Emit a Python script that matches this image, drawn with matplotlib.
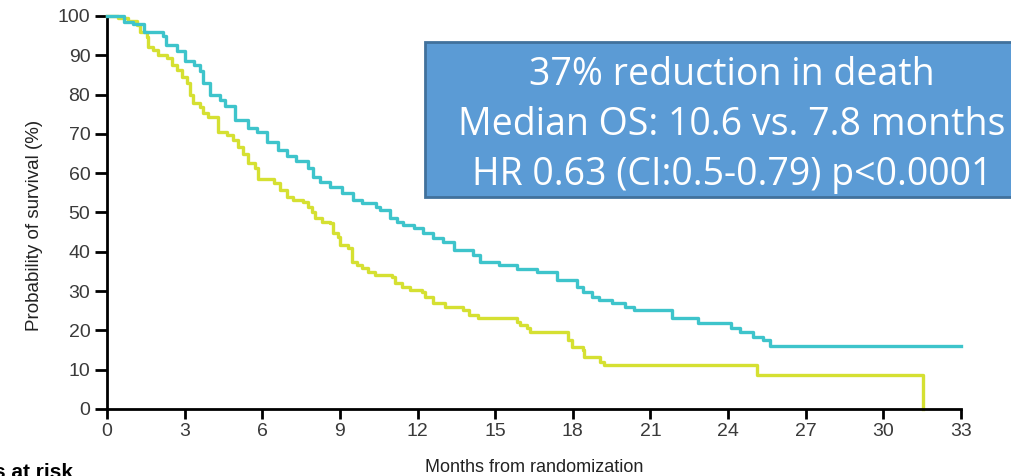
import matplotlib.pyplot as plt
from matplotlib.patches import Rectangle

# Kaplan-Meier steps: (month of drop, survival % after drop)
months_treat = [0, 0.66, 1.0, 1.45, 2.15, 2.3, 2.7, 3.0, 3.35, 3.6, 3.7, 4.0, 4.35, 4.55, 4.95,
                5.45, 5.8, 6.2, 6.6, 6.95, 7.3, 7.75, 7.95, 8.25, 8.6, 9.1, 9.5, 9.85, 10.4,
                10.55, 10.95, 11.2, 11.45, 11.85, 12.2, 12.6, 13.0, 13.4, 14.15, 14.4, 15.15,
                15.85, 16.6, 17.4, 18.15, 18.4, 18.75, 19.0, 19.5, 20.0, 20.35, 21.85, 22.85,
                24.1, 24.45, 24.95, 25.35, 25.6, 33.0]
surv_treat = [100, 98.5, 98, 96, 95, 92.6, 91, 88.5, 87.5, 86, 83, 80, 78.6, 77, 73.5,
              71.5, 70.5, 68, 66, 64.5, 63, 61.3, 59, 57.8, 56.5, 55, 53.2, 52.4, 51.4,
              50.6, 48.6, 47.6, 46.8, 46, 44.8, 43.5, 42.5, 40.5, 39.2, 37.4, 36.6,
              35.6, 34.9, 32.8, 31, 29.8, 28.5, 27.7, 27, 26, 25.2, 23.2, 21.9,
              20.6, 19.6, 18.3, 17.6, 16.1, 16.1]

months_ctrl = [0, 0.43, 0.81, 1.16, 1.28, 1.55, 1.6, 1.78, 1.97, 2.32, 2.51, 2.7, 2.9, 3.09,
               3.2, 3.32, 3.59, 3.71, 3.9, 4.29, 4.64, 4.87, 5.06, 5.25, 5.45, 5.72, 5.83,
               6.45, 6.68, 6.96, 7.19, 7.57, 7.75, 7.92, 8.04, 8.3, 8.6, 8.73, 8.93, 9.0,
               9.3, 9.47, 9.66, 9.85, 10.1, 10.35, 11.0, 11.13, 11.4, 11.7, 12.16, 12.3,
               12.6, 13.06, 13.75, 14.0, 14.33, 15.84, 15.96, 16.23, 16.35, 17.8, 17.97,
               18.4, 18.45, 19.05, 19.2, 25.12, 31.53]
surv_ctrl = [100, 99.5, 98.8, 97.7, 96, 94.6, 92, 91.3, 90, 89.3, 87.5, 86.3, 84.5, 83,
             80, 77.9, 76.8, 75.3, 74.3, 70.5, 69.7, 68.4, 66.7, 65, 62.6, 61.3, 58.5,
             57.5, 55.7, 53.9, 53.2, 52.7, 51.4, 50.1, 48.6, 47.6, 47.3, 44.8, 43.8, 41.7,
             41, 37.4, 36.6, 35.9, 34.9, 34.1, 33.6, 32, 31, 30.3, 29.8, 28.5,
             27, 26, 25.2, 23.9, 23.2, 22.1, 21.4, 20.6, 19.6, 17.6, 15.8,
             15, 13.2, 12, 11.2, 8.7, 0]

x_ticks = list(range(0, 34, 3))
y_ticks = list(range(0, 101, 10))
box_lines = ["37% reduction in death",
             "Median OS: 10.6 vs. 7.8 months",
             "HR 0.63 (CI:0.5-0.79) p<0.0001"]

plt.rcParams['font.family'] = ['Liberation Sans', 'DejaVu Sans']

fig = plt.figure(figsize=(10.11, 4.76), dpi=100)
ax = fig.add_axes([0.1058, 0.1408, 0.8448, 0.8256])

ax.step(months_treat, surv_treat, where='post', color='#3EC4CB', lw=2.4, clip_on=False, zorder=3)
ax.step(months_ctrl, surv_ctrl, where='post', color='#D5E032', lw=2.4, clip_on=False, zorder=2)

ax.set_xlim(0, 33)
ax.set_ylim(0, 100)
ax.set_xticks(x_ticks)
ax.set_yticks(y_ticks)
ax.spines[['top', 'right']].set_visible(False)
for s in ['left', 'bottom']:
    ax.spines[s].set_linewidth(2)
    ax.spines[s].set_color('black')
ax.tick_params(axis='y', length=9, width=2, labelsize=14, labelcolor='#3a3a3a', pad=3)
ax.tick_params(axis='x', length=7, width=2, labelsize=14, labelcolor='#3a3a3a', pad=3)
ax.set_xlabel('Months from randomization', fontsize=13, color='#222222')
ax.set_ylabel('Probability of survival (%)', fontsize=13.5, color='#222222')
ax.xaxis.set_label_coords(0.5, -0.128)
ax.yaxis.set_label_coords(-0.075, 0.467)

# annotation box (runs off the right edge)
fig.patches.append(Rectangle((0.4204, 0.586), 0.62, 0.3256, transform=fig.transFigure,
                             facecolor='#5B9BD5', edgecolor='#41719C', lw=2, zorder=5))
for i, line in enumerate(box_lines):
    fig.text(0.724, 0.842 - i * 0.1045, line, ha='center', va='center', color='white',
             fontsize=27, family=['Open Sans', 'DejaVu Sans'], zorder=6)

fig.text(0.072, 0.028, 'Numbers at risk', ha='right', va='top', fontsize=15,
         fontweight='bold', color='black')

fig.savefig('out.png', dpi=100)
